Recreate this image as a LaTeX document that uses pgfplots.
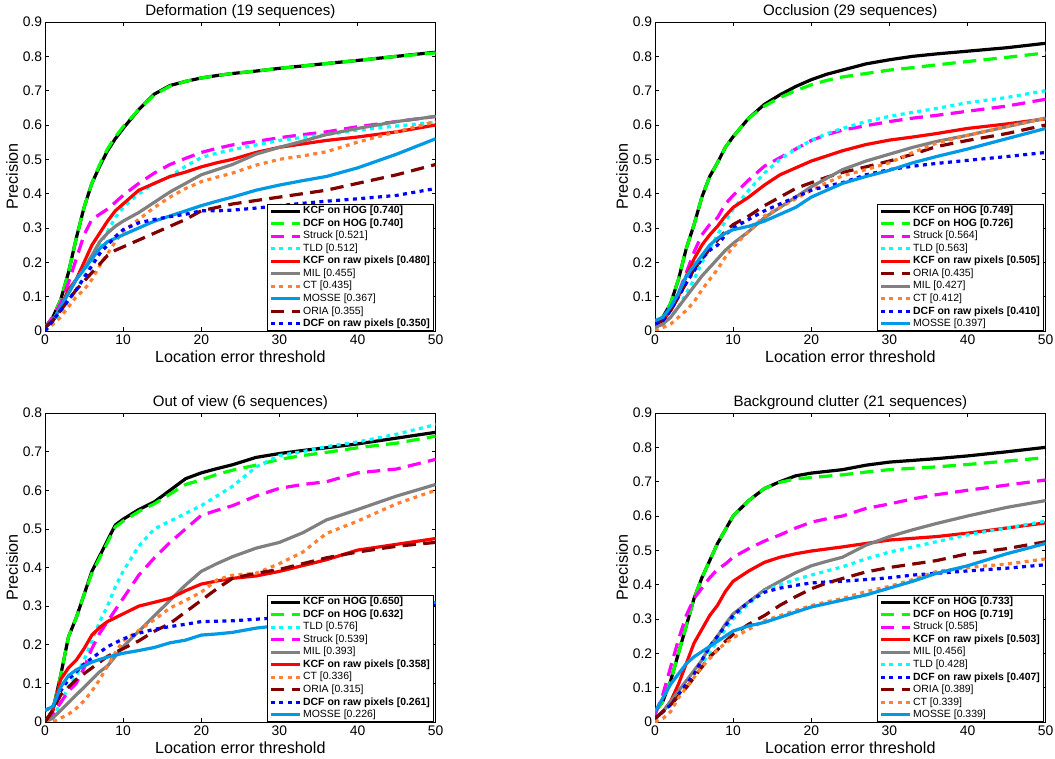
\documentclass[border=0pt]{standalone}
\usepackage{fontspec}
\setmainfont{Liberation Sans}
\usepackage{pgfplots}
\usepackage{pgfplotstable}
\pgfplotsset{compat=1.18}
\definecolor{cgreen}{rgb}{0,1,0}
\definecolor{cmag}{rgb}{1,0,1}
\definecolor{ccyan}{rgb}{0,1,1}
\definecolor{cgray}{rgb}{0.5,0.5,0.5}
\definecolor{corange}{rgb}{1,0.5,0.2}
\definecolor{clblue}{rgb}{0,0.6,0.9}
\definecolor{cdred}{rgb}{0.5,0,0}
\definecolor{cblue}{rgb}{0,0,1}

\pgfplotstableread{
name 0 1 2 3 4 5 6 7 8 9 10 12 14 16 18 20 22 24 27 30 33 36 40 45 50
kcfhog 0.01 0.04 0.09 0.17 0.27 0.36 0.43 0.48 0.525 0.56 0.59 0.645 0.69 0.715 0.727 0.737 0.744 0.75 0.757 0.765 0.772 0.779 0.788 0.80 0.812
dcfhog 0.01 0.04 0.09 0.17 0.27 0.36 0.43 0.485 0.53 0.565 0.595 0.645 0.688 0.713 0.727 0.737 0.744 0.75 0.757 0.765 0.772 0.779 0.788 0.80 0.81
struck 0.01 0.04 0.08 0.14 0.21 0.28 0.325 0.34 0.355 0.375 0.395 0.43 0.46 0.485 0.503 0.52 0.532 0.542 0.552 0.563 0.572 0.58 0.595 0.61 0.625
tld 0.0 0.02 0.05 0.09 0.12 0.16 0.2 0.25 0.29 0.33 0.36 0.4 0.43 0.45 0.48 0.505 0.518 0.528 0.542 0.555 0.564 0.572 0.585 0.597 0.608
kcfraw 0.01 0.03 0.07 0.12 0.15 0.2 0.25 0.285 0.32 0.35 0.37 0.41 0.43 0.45 0.463 0.478 0.49 0.5 0.52 0.535 0.545 0.555 0.565 0.58 0.60
mil 0.01 0.03 0.07 0.11 0.15 0.18 0.22 0.26 0.285 0.305 0.32 0.345 0.375 0.405 0.43 0.455 0.47 0.485 0.515 0.535 0.553 0.572 0.59 0.61 0.625
ct 0.0 0.02 0.04 0.07 0.1 0.12 0.15 0.19 0.225 0.26 0.29 0.325 0.36 0.39 0.415 0.435 0.448 0.46 0.483 0.5 0.51 0.522 0.55 0.58 0.61
mosse 0.01 0.03 0.07 0.11 0.15 0.18 0.21 0.24 0.26 0.27 0.28 0.3 0.32 0.335 0.35 0.365 0.378 0.39 0.41 0.425 0.438 0.45 0.475 0.515 0.56
oria 0.01 0.03 0.06 0.09 0.12 0.145 0.17 0.195 0.22 0.235 0.245 0.265 0.285 0.305 0.325 0.35 0.36 0.37 0.38 0.39 0.4 0.41 0.43 0.455 0.485
dcfraw 0.0 0.03 0.06 0.09 0.12 0.155 0.19 0.225 0.25 0.275 0.295 0.315 0.325 0.333 0.34 0.35 0.35 0.352 0.358 0.365 0.372 0.378 0.385 0.395 0.415
}\rawA
\pgfplotstabletranspose[colnames from=name, input colnames to=x]\tabA\rawA

\pgfplotstableread{
name 0 1 2 3 4 5 6 7 8 9 10 12 14 16 18 20 22 24 27 30 33 36 40 45 50
kcfhog 0.02 0.04 0.08 0.15 0.24 0.31 0.39 0.45 0.49 0.535 0.566 0.62 0.66 0.688 0.712 0.732 0.748 0.76 0.778 0.79 0.8 0.807 0.815 0.825 0.838
dcfhog 0.02 0.04 0.08 0.15 0.24 0.31 0.39 0.45 0.49 0.535 0.566 0.62 0.655 0.68 0.70 0.717 0.73 0.74 0.75 0.76 0.767 0.775 0.785 0.797 0.81
struck 0.02 0.03 0.06 0.11 0.17 0.23 0.28 0.31 0.33 0.37 0.395 0.44 0.48 0.505 0.53 0.555 0.572 0.585 0.598 0.61 0.62 0.628 0.64 0.655 0.675
tld 0.0 0.02 0.04 0.07 0.11 0.15 0.2 0.24 0.28 0.32 0.355 0.41 0.46 0.5 0.53 0.555 0.575 0.59 0.61 0.625 0.637 0.648 0.665 0.68 0.70
kcfraw 0.02 0.03 0.06 0.1 0.16 0.21 0.25 0.28 0.305 0.335 0.36 0.39 0.425 0.455 0.475 0.495 0.51 0.525 0.543 0.556 0.565 0.575 0.59 0.603 0.618
oria 0.02 0.03 0.06 0.1 0.14 0.18 0.21 0.24 0.265 0.29 0.31 0.335 0.365 0.39 0.415 0.432 0.448 0.462 0.478 0.495 0.515 0.537 0.555 0.575 0.6
mil 0.01 0.02 0.04 0.07 0.1 0.13 0.16 0.185 0.21 0.235 0.255 0.29 0.33 0.36 0.39 0.42 0.445 0.47 0.495 0.515 0.535 0.552 0.57 0.595 0.62
ct 0.0 0.01 0.02 0.04 0.06 0.085 0.12 0.15 0.18 0.215 0.245 0.29 0.335 0.36 0.385 0.41 0.432 0.452 0.47 0.49 0.52 0.547 0.57 0.595 0.62
dcfraw 0.02 0.03 0.06 0.1 0.14 0.175 0.21 0.235 0.25 0.28 0.3 0.325 0.35 0.37 0.39 0.41 0.422 0.432 0.455 0.47 0.48 0.488 0.497 0.508 0.52
mosse 0.03 0.04 0.07 0.11 0.16 0.19 0.22 0.25 0.27 0.285 0.295 0.305 0.32 0.34 0.36 0.39 0.41 0.43 0.45 0.468 0.49 0.508 0.53 0.56 0.59
}\rawB
\pgfplotstabletranspose[colnames from=name, input colnames to=x]\tabB\rawB

\pgfplotstableread{
name 0 1 2 3 4 5 6 7 8 9 10 12 14 16 18 20 22 24 27 30 33 36 40 45 50
kcfhog 0.0 0.03 0.12 0.22 0.27 0.33 0.39 0.43 0.47 0.51 0.525 0.55 0.57 0.6 0.63 0.645 0.656 0.666 0.685 0.695 0.703 0.71 0.72 0.735 0.75
dcfhog 0.0 0.03 0.12 0.22 0.27 0.33 0.385 0.425 0.465 0.505 0.52 0.545 0.565 0.59 0.615 0.627 0.641 0.652 0.665 0.68 0.69 0.698 0.71 0.722 0.74
tld 0.0 0.01 0.05 0.09 0.12 0.16 0.21 0.26 0.3 0.35 0.39 0.455 0.5 0.52 0.54 0.56 0.585 0.61 0.66 0.69 0.70 0.713 0.725 0.745 0.77
struck 0.0 0.02 0.05 0.08 0.1 0.14 0.19 0.23 0.26 0.29 0.32 0.38 0.425 0.465 0.5 0.535 0.548 0.56 0.585 0.605 0.615 0.622 0.645 0.655 0.68
mil 0.0 0.01 0.03 0.05 0.07 0.09 0.11 0.13 0.145 0.17 0.195 0.235 0.275 0.315 0.355 0.39 0.41 0.428 0.45 0.465 0.49 0.523 0.55 0.585 0.615
kcfraw 0.0 0.03 0.11 0.14 0.16 0.19 0.225 0.245 0.26 0.27 0.28 0.3 0.31 0.32 0.34 0.357 0.365 0.372 0.378 0.39 0.405 0.42 0.445 0.46 0.475
ct 0.0 0.0 0.01 0.02 0.035 0.055 0.08 0.11 0.145 0.18 0.21 0.237 0.265 0.295 0.315 0.336 0.368 0.38 0.385 0.41 0.44 0.488 0.52 0.565 0.60
oria 0.0 0.03 0.07 0.09 0.11 0.125 0.14 0.155 0.17 0.18 0.19 0.21 0.235 0.255 0.285 0.315 0.345 0.372 0.385 0.395 0.41 0.425 0.44 0.455 0.465
dcfraw 0.03 0.04 0.08 0.11 0.13 0.15 0.165 0.18 0.195 0.205 0.215 0.23 0.24 0.247 0.253 0.26 0.261 0.262 0.266 0.27 0.272 0.275 0.28 0.29 0.305
mosse 0.03 0.04 0.09 0.12 0.135 0.145 0.155 0.162 0.168 0.173 0.178 0.185 0.193 0.205 0.212 0.225 0.228 0.232 0.243 0.25 0.255 0.26 0.27 0.29 0.31
}\rawC
\pgfplotstabletranspose[colnames from=name, input colnames to=x]\tabC\rawC

\pgfplotstableread{
name 0 1 2 3 4 5 6 7 8 9 10 12 14 16 18 20 22 24 27 30 33 36 40 45 50
kcfhog 0.03 0.06 0.12 0.2 0.28 0.36 0.42 0.47 0.52 0.56 0.6 0.645 0.68 0.70 0.717 0.725 0.73 0.735 0.748 0.757 0.762 0.767 0.775 0.787 0.80
dcfhog 0.03 0.06 0.12 0.2 0.28 0.36 0.42 0.47 0.52 0.56 0.6 0.645 0.68 0.698 0.708 0.712 0.716 0.72 0.728 0.735 0.739 0.743 0.75 0.76 0.77
struck 0.02 0.08 0.16 0.24 0.31 0.36 0.39 0.42 0.445 0.46 0.48 0.505 0.527 0.545 0.565 0.582 0.592 0.6 0.622 0.635 0.65 0.662 0.675 0.69 0.705
kcfraw 0.01 0.03 0.06 0.11 0.17 0.23 0.27 0.31 0.34 0.38 0.41 0.44 0.465 0.48 0.49 0.498 0.504 0.51 0.52 0.53 0.535 0.54 0.55 0.565 0.58
mil 0.01 0.03 0.06 0.09 0.12 0.15 0.18 0.22 0.25 0.285 0.315 0.35 0.385 0.41 0.435 0.455 0.468 0.48 0.515 0.54 0.56 0.578 0.6 0.625 0.645
tld 0.01 0.03 0.05 0.08 0.11 0.14 0.17 0.2 0.235 0.27 0.3 0.345 0.38 0.4 0.415 0.428 0.44 0.452 0.475 0.495 0.51 0.525 0.545 0.565 0.585
dcfraw 0.01 0.03 0.05 0.08 0.11 0.14 0.18 0.22 0.25 0.28 0.31 0.35 0.378 0.39 0.398 0.405 0.408 0.41 0.415 0.42 0.428 0.433 0.44 0.448 0.458
oria 0.01 0.03 0.05 0.075 0.1 0.13 0.16 0.19 0.21 0.235 0.255 0.285 0.31 0.34 0.365 0.388 0.405 0.418 0.437 0.45 0.46 0.47 0.49 0.505 0.525
ct 0.0 0.01 0.03 0.07 0.1 0.13 0.16 0.185 0.21 0.23 0.245 0.27 0.295 0.31 0.325 0.339 0.35 0.36 0.38 0.395 0.415 0.438 0.45 0.46 0.475
mosse 0.03 0.07 0.11 0.14 0.17 0.19 0.205 0.22 0.235 0.25 0.265 0.28 0.29 0.305 0.32 0.335 0.345 0.355 0.37 0.39 0.41 0.433 0.455 0.49 0.52
}\rawD
\pgfplotstabletranspose[colnames from=name, input colnames to=x]\tabD\rawD

\pgfplotsset{
  sKH/.style={black, line width=2.4pt, solid},
  sDH/.style={cgreen, line width=2.4pt, dash pattern=on 10pt off 5.5pt},
  sST/.style={cmag, line width=2.4pt, dash pattern=on 10pt off 5.5pt},
  sTL/.style={ccyan, line width=2.4pt, dash pattern=on 3pt off 3.3pt},
  sKR/.style={red, line width=2.4pt, solid},
  sMI/.style={cgray, line width=2.4pt, solid},
  sCT/.style={corange, line width=2.4pt, dash pattern=on 3pt off 3.3pt},
  sMO/.style={clblue, line width=2.4pt, solid},
  sOR/.style={cdred, line width=2.4pt, dash pattern=on 10pt off 5.5pt},
  sDR/.style={cblue, line width=2.4pt, dash pattern=on 3pt off 3.3pt},
  base/.style={
    scale only axis, width=293pt, height=231.75pt,
    xmin=0, xmax=50, ymin=0, ymax=0.9,
    xtick={0,10,20,30,40,50},
    ytick={0,0.1,0.2,0.3,0.4,0.5,0.6,0.7,0.8,0.9},
    tick align=inside, tick pos=both, major tick length=3pt,
    axis line style={line width=0.6pt},
    every tick/.style={black, line width=0.5pt},
    yticklabel style={font=\fontsize{10.4}{12}\selectfont, inner xsep=2pt},
    xticklabel style={font=\fontsize{10.4}{12}\selectfont, inner ysep=2.5pt},
    /pgf/number format/assume math mode=true,
    yticklabel={\pgfmathprintnumber[fixed,precision=1]{\tick}},
    every axis title/.style={at={(axis description cs:0.5,1.033)}, anchor=center,
      font=\fontsize{11.3}{13}\selectfont},
    every axis x label/.style={at={(axis description cs:0.5,-0.084)}, anchor=center,
      font=\fontsize{12.1}{14}\selectfont},
    every axis y label/.style={at={(axis description cs:-0.0845,0.5)}, anchor=center, rotate=90,
      font=\fontsize{12.1}{14}\selectfont},
    xlabel={Location error threshold}, ylabel={Precision},
    legend style={at={(axis description cs:1,0)}, anchor=south east, xshift=-1.5pt,
      font=\fontsize{7.85}{9}\selectfont, draw=black, line width=0.6pt,
      inner xsep=1.5pt, inner ysep=0.3pt, column sep=0pt,
      nodes={inner xsep=1pt, inner ysep=1pt, text height=5.7pt, text depth=1.7pt},
      row sep=0pt},
    legend cell align=left,
    legend image code/.code={\draw[##1, line width=2.2pt] (0pt,0pt) -- (22pt,0pt);},
  },
}

\begin{document}
\begin{tikzpicture}
% --- Deformation
\begin{axis}[base, at={(33.75pt,-16.5pt)}, anchor=north west, title={Deformation (19 sequences)}]
\addplot[sKH] table[x=x,y=kcfhog]{\tabA}; \addlegendentry{\textbf{KCF on HOG [0.740]}}
\addplot[sDH] table[x=x,y=dcfhog]{\tabA}; \addlegendentry{\textbf{DCF on HOG [0.740]}}
\addplot[sST] table[x=x,y=struck]{\tabA}; \addlegendentry{Struck [0.521]}
\addplot[sTL] table[x=x,y=tld]{\tabA}; \addlegendentry{TLD [0.512]}
\addplot[sKR] table[x=x,y=kcfraw]{\tabA}; \addlegendentry{\textbf{KCF on raw pixels [0.480]}}
\addplot[sMI] table[x=x,y=mil]{\tabA}; \addlegendentry{MIL [0.455]}
\addplot[sCT] table[x=x,y=ct]{\tabA}; \addlegendentry{CT [0.435]}
\addplot[sMO] table[x=x,y=mosse]{\tabA}; \addlegendentry{MOSSE [0.367]}
\addplot[sOR] table[x=x,y=oria]{\tabA}; \addlegendentry{ORIA [0.355]}
\addplot[sDR] table[x=x,y=dcfraw]{\tabA}; \addlegendentry{\textbf{DCF on raw pixels [0.350]}}
\end{axis}
% --- Occlusion
\begin{axis}[base, at={(491.25pt,-16.5pt)}, anchor=north west, title={Occlusion (29 sequences)}]
\addplot[sKH] table[x=x,y=kcfhog]{\tabB}; \addlegendentry{\textbf{KCF on HOG [0.749]}}
\addplot[sDH] table[x=x,y=dcfhog]{\tabB}; \addlegendentry{\textbf{DCF on HOG [0.726]}}
\addplot[sST] table[x=x,y=struck]{\tabB}; \addlegendentry{Struck [0.564]}
\addplot[sTL] table[x=x,y=tld]{\tabB}; \addlegendentry{TLD [0.563]}
\addplot[sKR] table[x=x,y=kcfraw]{\tabB}; \addlegendentry{\textbf{KCF on raw pixels [0.505]}}
\addplot[sOR] table[x=x,y=oria]{\tabB}; \addlegendentry{ORIA [0.435]}
\addplot[sMI] table[x=x,y=mil]{\tabB}; \addlegendentry{MIL [0.427]}
\addplot[sCT] table[x=x,y=ct]{\tabB}; \addlegendentry{CT [0.412]}
\addplot[sDR] table[x=x,y=dcfraw]{\tabB}; \addlegendentry{\textbf{DCF on raw pixels [0.410]}}
\addplot[sMO] table[x=x,y=mosse]{\tabB}; \addlegendentry{MOSSE [0.397]}
\end{axis}
% --- Out of view
\begin{axis}[base, at={(33.75pt,-309.75pt)}, anchor=north west, ymax=0.8,
  ytick={0,0.1,0.2,0.3,0.4,0.5,0.6,0.7,0.8}, title={Out of view (6 sequences)}]
\addplot[sKH] table[x=x,y=kcfhog]{\tabC}; \addlegendentry{\textbf{KCF on HOG [0.650]}}
\addplot[sDH] table[x=x,y=dcfhog]{\tabC}; \addlegendentry{\textbf{DCF on HOG [0.632]}}
\addplot[sTL] table[x=x,y=tld]{\tabC}; \addlegendentry{TLD [0.576]}
\addplot[sST] table[x=x,y=struck]{\tabC}; \addlegendentry{Struck [0.539]}
\addplot[sMI] table[x=x,y=mil]{\tabC}; \addlegendentry{MIL [0.393]}
\addplot[sKR] table[x=x,y=kcfraw]{\tabC}; \addlegendentry{\textbf{KCF on raw pixels [0.358]}}
\addplot[sCT] table[x=x,y=ct]{\tabC}; \addlegendentry{CT [0.336]}
\addplot[sOR] table[x=x,y=oria]{\tabC}; \addlegendentry{ORIA [0.315]}
\addplot[sDR] table[x=x,y=dcfraw]{\tabC}; \addlegendentry{\textbf{DCF on raw pixels [0.261]}}
\addplot[sMO] table[x=x,y=mosse]{\tabC}; \addlegendentry{MOSSE [0.226]}
\end{axis}
% --- Background clutter
\begin{axis}[base, at={(491.25pt,-309.75pt)}, anchor=north west, title={Background clutter (21 sequences)}]
\addplot[sKH] table[x=x,y=kcfhog]{\tabD}; \addlegendentry{\textbf{KCF on HOG [0.733]}}
\addplot[sDH] table[x=x,y=dcfhog]{\tabD}; \addlegendentry{\textbf{DCF on HOG [0.719]}}
\addplot[sST] table[x=x,y=struck]{\tabD}; \addlegendentry{Struck [0.585]}
\addplot[sKR] table[x=x,y=kcfraw]{\tabD}; \addlegendentry{\textbf{KCF on raw pixels [0.503]}}
\addplot[sMI] table[x=x,y=mil]{\tabD}; \addlegendentry{MIL [0.456]}
\addplot[sTL] table[x=x,y=tld]{\tabD}; \addlegendentry{TLD [0.428]}
\addplot[sDR] table[x=x,y=dcfraw]{\tabD}; \addlegendentry{\textbf{DCF on raw pixels [0.407]}}
\addplot[sOR] table[x=x,y=oria]{\tabD}; \addlegendentry{ORIA [0.389]}
\addplot[sCT] table[x=x,y=ct]{\tabD}; \addlegendentry{CT [0.339]}
\addplot[sMO] table[x=x,y=mosse]{\tabD}; \addlegendentry{MOSSE [0.339]}
\end{axis}
\pgfresetboundingbox
\path (0pt,0pt) rectangle (791.25pt,-569.25pt);
\end{tikzpicture}
\end{document}
